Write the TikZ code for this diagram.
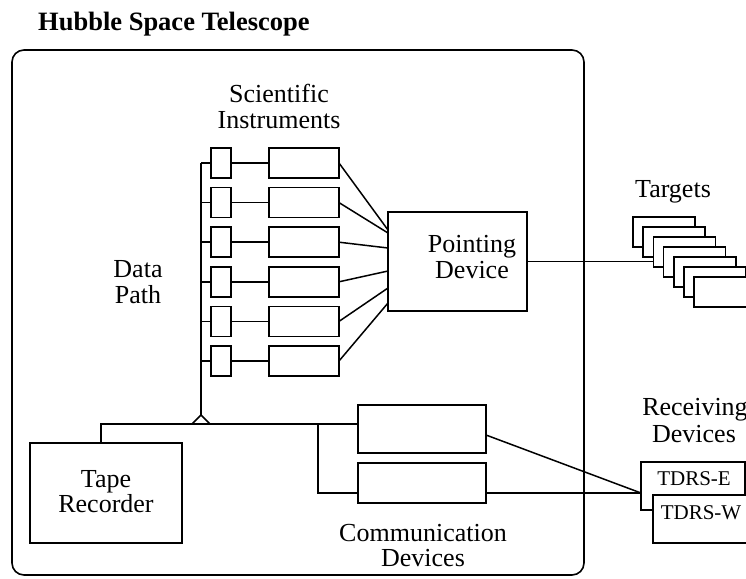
\documentclass[tikz,border=0pt]{standalone}
\usepackage{fontspec}
\setmainfont{Liberation Serif}
\usetikzlibrary{calc}
\begin{document}
\begin{tikzpicture}[x=1pt,y=-1pt,
  box/.style={draw, line width=1.6pt, inner sep=0pt, outer sep=0pt, fill=white},
  lbl/.style={font=\fontsize{26}{27}\selectfont, inner sep=0pt, anchor=base},
  small/.style={font=\fontsize{21}{22}\selectfont, inner sep=0pt, anchor=base},
  ln/.style={line width=1.5pt},
  sbox/.style={box, minimum width=20pt, minimum height=30pt},
  bbox/.style={box, minimum width=70pt, minimum height=30pt},
  tbox/.style={box, minimum width=62pt, minimum height=30pt}]
\useasboundingbox (0,0) rectangle (746,578);
\clip (0,0) rectangle (746,578);
% title and outer box
\node[anchor=base west, inner sep=0pt, font=\fontsize{26.5}{28}\selectfont\bfseries] (title) at (38,31) {Hubble Space Telescope};
\node[box, fill=none, rounded corners=12pt, minimum width=572pt, minimum height=525pt] (hst) at (298,312.5) {};
% labels
\node[lbl] (sci1) at (279,102) {Scientific};
\node[lbl] (sci2) at (279,128) {Instruments};
\node[lbl] (dp1) at (138,277) {Data};
\node[lbl] (dp2) at (138,303) {Path};
% instruments
\foreach \i in {1,...,6}{
  \node[sbox] (s\i) at (221,{163+39.6*(\i-1)}) {};
  \node[bbox] (b\i) at (304,{163+39.6*(\i-1)}) {};
  \draw[ln] (s\i.east) -- (b\i.west);
}
% pointing device
\node[box, minimum width=139pt, minimum height=99pt] (pd) at (457.5,261.5) {};
\node[lbl] (pd1) at (472,252) {Pointing};
\node[lbl] (pd2) at (472,278) {Device};
\draw[ln] (b1.east) -- ($(pd.north west)+(0,18)$);
\draw[ln] (b2.east) -- ($(pd.north west)+(0,21)$);
\draw[ln] (b3.east) -- ($(pd.north west)+(0,36)$);
\draw[ln] (b4.east) -- ($(pd.north west)+(0,59)$);
\draw[ln] (b5.east) -- ($(pd.north west)+(0,76)$);
\draw[ln] (b6.east) -- ($(pd.north west)+(0,91)$);
% data path
\coordinate (tri) at (201,415);
\draw[ln] (tri |- s1.west) -- (tri);
\foreach \i in {1,...,6}{ \draw[ln] (tri |- s\i.west) -- (s\i.west); }
\draw[ln, fill=white, line join=round] (tri) -- ++(-9,9) -- ++(18,0) -- cycle;
% tape recorder & communication devices
\node[box, minimum width=152pt, minimum height=100pt] (tape) at (106,493) {};
\node[lbl] (tp1) at (106,487) {Tape};
\node[lbl] (tp2) at (106,512) {Recorder};
\node[box, minimum width=128pt, minimum height=48pt] (c1) at (422,429) {};
\node[box, minimum width=128pt, minimum height=40pt] (c2) at (422,483) {};
\node[lbl] (cd1) at (423,541) {Communication};
\node[lbl] (cd2) at (423,566) {Devices};
\coordinate (tapein) at ($(tape.north)+(-5,0)$);
\draw[ln] (tapein) |- ($(c1.west)+(0,-5)$);
\coordinate (br) at (318,424);
\draw[ln] (br) |- ($(c2.west)+(0,10)$);
% targets
\node[lbl] (tg) at (673,197) {Targets};
\foreach \i in {1,...,7}{
  \node[tbox] (t\i) at ({664+10.2*(\i-1)},{232+10*(\i-1)}) {};
}
\draw[ln] (pd.east) -- (pd.east -| t3.west);
% receiving devices
\node[lbl] (rd1) at (695,415) {Receiving};
\node[lbl] (rd2) at (694,442) {Devices};
\node[box, minimum width=104pt, minimum height=48pt] (tdrse) at (693,486) {};
\node[box, minimum width=120pt, minimum height=48pt] (tdrsw) at (713,519) {};
\node[small] (te) at (694,485) {TDRS-E};
\node[small] (tw) at (701,519) {TDRS-W};
\coordinate (rx) at ($(tdrse.west)+(0,7)$);
\draw[ln] ($(c1.east)+(0,6)$) -- (rx);
\draw[ln] ($(c2.east)+(0,10)$) -- (rx);
\end{tikzpicture}
\end{document}
